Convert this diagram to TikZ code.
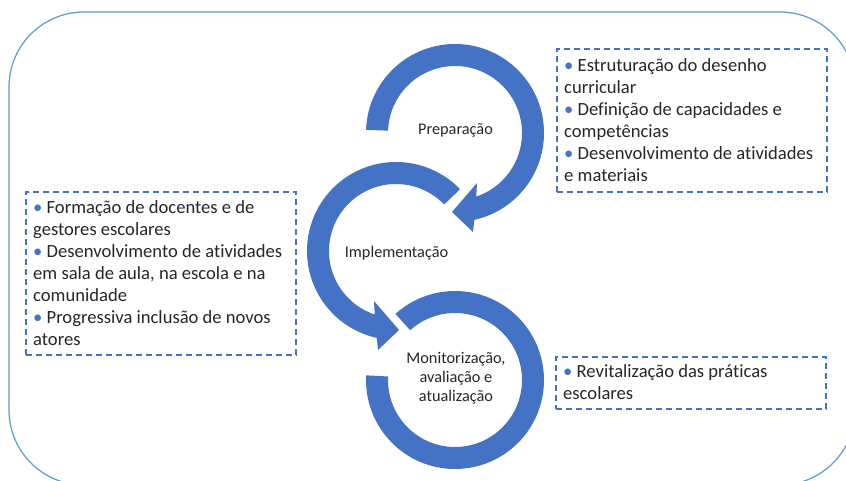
\documentclass[tikz,border=0pt]{standalone}
\usepackage{fontspec}
\setmainfont[Ligatures=NoCommon]{Carlito}
\usetikzlibrary{calc}
\definecolor{ringblue}{HTML}{4472C4}
\definecolor{frameblue}{HTML}{5B9BD5}
\definecolor{dashblue}{HTML}{4472C4}
\definecolor{txt}{HTML}{262626}
\newcommand{\bul}{{\color{dashblue}•}}
\begin{document}
\begin{tikzpicture}[x=1pt,y=1pt,
  ring/.style={fill=ringblue},
  dashbox/.style={draw=dashblue, line width=1.3pt, dash pattern=on 6pt off 4pt, inner sep=0pt, rectangle},
  boxtext/.style={font=\fontsize{18.6}{22}\selectfont, text=txt, align=left, anchor=north west, inner sep=0pt},
  lbl/.style={font=\fontsize{16.3}{19}\selectfont, text=txt, align=center, inner sep=0pt}]
\useasboundingbox (0,0) rectangle (846,480);
\begin{scope}
  \clip (0,0) rectangle (846,480);
  \draw[frameblue, line width=1.2pt, rounded corners=75pt] (9,468) rectangle (855,-5);
\end{scope}

\coordinate (c1) at (455,347);
\coordinate (c2) at (396,229);
\coordinate (c3) at (455,100);

% ring 1 (Preparacao)
\fill[ring] ($(c1)+(178:89)$) arc[start angle=178, end angle=-77.5, radius=89]
  -- ($(c1)+(18,-99)$) -- ($(c1)+(-3,-79)$) -- ($(c1)+(22,-50)$)
  -- ($(c1)+(-71.5:67)$) arc[start angle=-71.5, end angle=178, radius=67] -- cycle;
% ring 2 (Implementacao)
\fill[ring] ($(c2)+(44:89)$) arc[start angle=44, end angle=257.5, radius=89]
  -- ($(c2)+(-18,-99)$) -- ($(c2)+(3,-79)$) -- ($(c2)+(-22,-50)$)
  -- ($(c2)+(251.5:67)$) arc[start angle=251.5, end angle=44, radius=67] -- cycle;
% ring 3 (Monitorizacao)
\fill[ring] ($(c3)+(177:89)$) arc[start angle=177, end angle=492, radius=89]
  -- ($(c3)+(492:67)$) arc[start angle=492, end angle=177, radius=67] -- cycle;

\node[lbl, anchor=base] (prep) at (455.5,345) {Preparação};
\node[lbl, anchor=base] (impl) at (396.5,222.3) {Implementação};
\node[lbl, anchor=north] (mon) at (456,130.3) {\strut Monitorização,\\avaliação e\\atualização};

\node[dashbox, minimum width=270pt, minimum height=143pt] (b1) at (692,359.5) {};
\node[dashbox, minimum width=270pt, minimum height=163pt] (b2) at (161,206.5) {};
\node[dashbox, minimum width=270pt, minimum height=52pt] (b3) at (691,97) {};

\node[boxtext] (t1) at (564,423.7) {\strut\bul{} Estruturação do desenho\\curricular\\\bul{} Definição de capacidades e\\competências\\\bul{} Desenvolvimento de atividades\\e materiais};
\node[boxtext] (t2) at (33,282.1) {\strut\bul{} Formação de docentes e de\\gestores escolares\\\bul{} Desenvolvimento de atividades\\em sala de aula, na escola e na\\comunidade\\\bul{} Progressiva inclusão de novos\\atores};
\node[boxtext] (t3) at (563,118.1) {\strut\bul{} Revitalização das práticas\\escolares};
\end{tikzpicture}
\end{document}
